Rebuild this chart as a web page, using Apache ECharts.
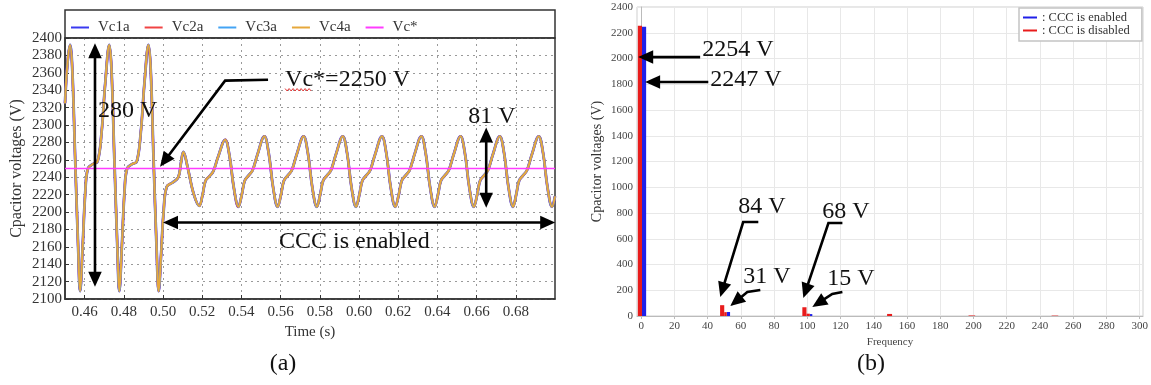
<!DOCTYPE html>
<html>
<head>
<meta charset="utf-8">
<script src="https://cdn.jsdelivr.net/npm/echarts@6/dist/echarts.min.js"></script>
<style>
html, body { margin: 0; padding: 0; background: #fff; }
#chart { width: 1151px; height: 385px; }
</style>
</head>
<body>
<div id="chart"></div>
<script>
// panel (a): capacitor voltage waveform
var timeTicks = [0.46, 0.48, 0.50, 0.52, 0.54, 0.56, 0.58, 0.60, 0.62, 0.64, 0.66, 0.68];
var vcWave = [
  [0.4500, 2325], [0.4513, 2372], [0.4526, 2392], [0.4537, 2365], [0.4552, 2260], [0.4567, 2160], [0.4577, 2109],
  [0.4590, 2160], [0.4604, 2225], [0.4617, 2250], [0.4642, 2255], [0.4666, 2258], [0.4686, 2290], [0.4706, 2350],
  [0.4726, 2392], [0.4737, 2365], [0.4752, 2260], [0.4767, 2160], [0.4777, 2109],
  [0.4790, 2160], [0.4804, 2225], [0.4817, 2250], [0.4842, 2255], [0.4866, 2258], [0.4886, 2290], [0.4906, 2350],
  [0.4926, 2392], [0.4937, 2365], [0.4952, 2260], [0.4967, 2160], [0.4978, 2109],
  [0.4990, 2150], [0.5003, 2200], [0.5019, 2229], [0.5050, 2234], [0.5078, 2240], [0.5092, 2257], [0.5104, 2269],
  [0.5125, 2252], [0.5155, 2222], [0.5185, 2207],
  [0.5202, 2220], [0.5217, 2236], [0.5237, 2241], [0.5257, 2247], [0.5282, 2264], [0.5317, 2283], [0.5339, 2265], [0.5362, 2227], [0.5385, 2206],
  [0.5402, 2220], [0.5417, 2236], [0.5437, 2242], [0.5457, 2248], [0.5482, 2266], [0.5517, 2287], [0.5539, 2268], [0.5562, 2228], [0.5585, 2206],
  [0.5602, 2220], [0.5617, 2236], [0.5637, 2242], [0.5657, 2248], [0.5682, 2266], [0.5717, 2287], [0.5739, 2268], [0.5762, 2228], [0.5785, 2206],
  [0.5802, 2220], [0.5817, 2236], [0.5837, 2242], [0.5857, 2248], [0.5882, 2266], [0.5917, 2287], [0.5939, 2268], [0.5962, 2228], [0.5985, 2206],
  [0.6002, 2220], [0.6017, 2236], [0.6037, 2242], [0.6057, 2248], [0.6082, 2266], [0.6117, 2287], [0.6139, 2268], [0.6162, 2228], [0.6185, 2206],
  [0.6203, 2220], [0.6218, 2236], [0.6238, 2242], [0.6258, 2248], [0.6283, 2266], [0.6318, 2287], [0.6340, 2268], [0.6363, 2228], [0.6386, 2206],
  [0.6403, 2220], [0.6418, 2236], [0.6438, 2242], [0.6458, 2248], [0.6483, 2266], [0.6518, 2287], [0.6540, 2268], [0.6563, 2228], [0.6586, 2206],
  [0.6603, 2220], [0.6618, 2236], [0.6638, 2242], [0.6658, 2248], [0.6683, 2266], [0.6718, 2287], [0.6740, 2268], [0.6763, 2228], [0.6786, 2206],
  [0.6802, 2220], [0.6817, 2236], [0.6837, 2242], [0.6857, 2248], [0.6882, 2266], [0.6917, 2287], [0.6939, 2268], [0.6962, 2228], [0.6985, 2206],
  [0.7000, 2218]
];
var vcRef = [[0.45, 2250], [0.70, 2250]];

// panel (b): spectrum bars [from Hz, to Hz, volts]
var freqTicks = [0, 20, 40, 60, 80, 100, 120, 140, 160, 180, 200, 220, 240, 260, 280, 300];
var enabledBars = [[0.5, 3, 2247], [51.5, 53.5, 31], [101.5, 103, 15]];
var disabledBars = [[-2, 0.5, 2254], [47.5, 50, 84], [50, 51.5, 30], [97, 99.5, 68], [99.5, 101.5, 18],
  [148, 151, 16], [197, 201, 4], [247, 251, 3]];

var serif = 'Liberation Serif';
var chart = echarts.init(document.getElementById('chart'));

function barItem(params, api) {
  var p0 = api.coord([api.value(0), 0]);
  var p1 = api.coord([api.value(1), api.value(2)]);
  return {
    type: 'rect',
    shape: { x: p0[0], y: p1[1], width: p1[0] - p0[0], height: p0[1] - p1[1] },
    style: { fill: api.visual('color') }
  };
}

function waveSeries(name, color, width) {
  return {
    name: name, type: 'line', xAxisIndex: 0, yAxisIndex: 0,
    data: vcWave, symbol: 'none', smooth: 0.4,
    itemStyle: { color: color }, lineStyle: { color: color, width: width }
  };
}
function plain(v) { return String(v); }

option = {
  animation: false,
  grid: [
    { left: 65, top: 38, width: 490, height: 261, show: true, borderColor: '#333', borderWidth: 1.5 },
    { left: 637, top: 7, width: 506, height: 309, show: true, borderColor: '#cfcfcf', borderWidth: 1 }
  ],
  legend: [
    {
      data: ['Vc1a', 'Vc2a', 'Vc3a', 'Vc4a', 'Vc*'],
      icon: 'rect', left: 66, top: 15, itemWidth: 18, itemHeight: 2, itemGap: 15,
      textStyle: { fontFamily: serif, fontSize: 15, color: '#333', padding: [0, 0, 0, 4] }
    },
    {
      data: [{ name: ': CCC is enabled', icon: 'rect' }, { name: ': CCC is disabled', icon: 'rect' }],
      orient: 'vertical', left: 1019, top: 8, itemWidth: 14, itemHeight: 2, itemGap: 0,
      padding: [3, 12, 4, 4], borderColor: '#c4c4c4', borderWidth: 1.5, backgroundColor: '#fff',
      textStyle: { fontFamily: serif, fontSize: 12.5, color: '#333' }
    }
  ],
  xAxis: [
    {
      type: 'value', gridIndex: 0, min: 0.45, max: 0.70,
      name: 'Time (s)', nameLocation: 'middle', nameGap: 25,
      nameTextStyle: { fontFamily: serif, fontSize: 15, color: '#333' },
      axisLine: { lineStyle: { color: '#333', width: 1.5 } },
      axisTick: { customValues: timeTicks, inside: true, length: 4, lineStyle: { color: '#333' } },
      axisLabel: { customValues: timeTicks, margin: 6, fontFamily: serif, fontSize: 15, color: '#333',
        formatter: function (v) { return v.toFixed(2); } },
      splitLine: { show: true, lineStyle: { color: '#9a9a9a', type: [2, 4] } }
    },
    {
      type: 'value', gridIndex: 1, min: -2.5, max: 302,
      name: 'Frequency', nameLocation: 'middle', nameGap: 20,
      nameTextStyle: { fontFamily: serif, fontSize: 11, color: '#444' },
      axisLine: { lineStyle: { color: '#bbb' } },
      axisTick: { customValues: freqTicks, length: 3, lineStyle: { color: '#bbb' } },
      axisLabel: { customValues: freqTicks, margin: 5, fontFamily: serif, fontSize: 11, color: '#444', formatter: plain },
      splitLine: { show: true, lineStyle: { color: '#e8e8e8' } }
    }
  ],
  yAxis: [
    {
      type: 'value', gridIndex: 0, min: 2100, max: 2400, interval: 20,
      name: 'Cpacitor voltages (V)', nameLocation: 'middle', nameGap: 40,
      nameTextStyle: { fontFamily: serif, fontSize: 16, color: '#333' },
      axisLine: { lineStyle: { color: '#333', width: 1.5 } },
      axisTick: { inside: true, length: 4, lineStyle: { color: '#333' } },
      axisLabel: { margin: 3, fontFamily: serif, fontSize: 15, color: '#333', formatter: plain },
      splitLine: { show: true, lineStyle: { color: '#9a9a9a', type: [2, 4] } }
    },
    {
      type: 'value', gridIndex: 1, min: 0, max: 2400, interval: 200,
      name: 'Cpacitor voltages (V)', nameLocation: 'middle', nameGap: 33,
      nameTextStyle: { fontFamily: serif, fontSize: 14, color: '#333' },
      axisLine: { show: true, lineStyle: { color: '#bbb' } },
      axisTick: { show: false },
      axisLabel: { margin: 4, fontFamily: serif, fontSize: 11, color: '#444', formatter: plain },
      splitLine: { show: true, lineStyle: { color: '#e8e8e8' } }
    }
  ],
  series: [
    waveSeries('Vc1a', '#3a3af0', 2.8),
    waveSeries('Vc2a', '#f04444', 2.4),
    waveSeries('Vc3a', '#44a4f4', 2.2),
    waveSeries('Vc4a', '#e6a83c', 2),
    {
      name: 'Vc*', type: 'line', xAxisIndex: 0, yAxisIndex: 0, data: vcRef, symbol: 'none',
      itemStyle: { color: '#ff3cff' }, lineStyle: { color: '#ff3cff', width: 1.5 }
    },
    {
      name: ': CCC is enabled', type: 'custom', xAxisIndex: 1, yAxisIndex: 1,
      data: enabledBars, encode: { x: [0, 1], y: 2 }, renderItem: barItem,
      itemStyle: { color: '#2020e8' }
    },
    {
      name: ': CCC is disabled', type: 'custom', xAxisIndex: 1, yAxisIndex: 1,
      data: disabledBars, encode: { x: [0, 1], y: 2 }, renderItem: barItem,
      itemStyle: { color: '#e81c1c' }
    }
  ]
};
chart.setOption(option);

// annotation arrows and texts, placed in data coordinates
function px(g, p) { return chart.convertToPixel({ gridIndex: g }, p); }
function head(tip, from, size) {
  var dx = tip[0] - from[0], dy = tip[1] - from[1];
  var len = Math.sqrt(dx * dx + dy * dy), ux = dx / len, uy = dy / len;
  var bx = tip[0] - ux * size, by = tip[1] - uy * size, w = size * 0.45;
  return { type: 'polygon', z: 100, shape: { points: [tip, [bx - uy * w, by + ux * w], [bx + uy * w, by - ux * w]] },
    style: { fill: '#000' } };
}
function cut(tip, from, d) {
  var dx = tip[0] - from[0], dy = tip[1] - from[1], len = Math.sqrt(dx * dx + dy * dy);
  return [tip[0] - dx / len * d, tip[1] - dy / len * d];
}
function arrow(g, pts, both) {
  var p = pts.map(function (d) { return px(g, d); });
  var n = p.length, size = 15;
  var line = p.slice();
  line[n - 1] = cut(p[n - 1], p[n - 2], size * 0.8);
  var out = [head(p[n - 1], p[n - 2], size)];
  if (both) {
    line[0] = cut(p[0], p[1], size * 0.8);
    out.push(head(p[0], p[1], size));
  }
  out.push({ type: 'polyline', z: 99, shape: { points: line }, style: { stroke: '#000', lineWidth: 2.6, fill: null } });
  return out;
}
function note(g, pos, str) {
  var p = px(g, pos);
  return { type: 'text', z: 100, x: p[0], y: p[1],
    style: { text: str, font: '24px "Liberation Serif"', fill: '#111', verticalAlign: 'middle', align: 'left' } };
}

var els = [];
els = els.concat(arrow(0, [[0.4653, 2394], [0.4653, 2114]], true));
els.push(note(0, [0.4668, 2317], '280 V'));
els = els.concat(arrow(0, [[0.5536, 2352], [0.5317, 2351], [0.4985, 2252]]));
els.push(note(0, [0.5623, 2352], 'Vc*=2250 V'));
els.push(note(0, [0.6557, 2309], '81 V'));
els = els.concat(arrow(0, [[0.6649, 2297], [0.6649, 2205]], true));
els = els.concat(arrow(0, [[0.5000, 2188], [0.7001, 2188]], true));
els.push(note(0, [0.5592, 2166], 'CCC is enabled'));

els = els.concat(arrow(1, [[35.5, 2011], [-1.8, 2011]]));
els.push(note(1, [36.7, 2065], '2254 V'));
els = els.concat(arrow(1, [[40.4, 1817], [2.4, 1817]]));
els.push(note(1, [41.6, 1832], '2247 V'));
els = els.concat(arrow(1, [[70.5, 730], [61.4, 730], [47.6, 148]]));
els.push(note(1, [58.4, 846], '84 V'));
els = els.concat(arrow(1, [[71.7, 202], [63.9, 186], [53.6, 78]]));
els.push(note(1, [61.4, 303], '31 V'));
els = els.concat(arrow(1, [[121.1, 722], [112.7, 722], [97.6, 140]]));
els.push(note(1, [109, 807], '68 V'));
els = els.concat(arrow(1, [[121.1, 186], [115, 171], [103, 70]]));
els.push(note(1, [112, 287], '15 V'));

// red spell-check squiggle under "Vc"
var sq = px(0, [0.5623, 2352]);
var wav = [];
for (var i = 0; i <= 13; i++) { wav.push([sq[0] + i * 2, sq[1] + 10 + (i % 2 ? 1.2 : -1.2)]); }
els.push({ type: 'polyline', z: 100, shape: { points: wav }, style: { stroke: '#e03030', lineWidth: 1, fill: null } });

// legend frame of panel (a)
els.push({ type: 'rect', z: 1, shape: { x: 65, y: 10, width: 490, height: 28 },
  style: { stroke: '#333', lineWidth: 1.5, fill: null } });
els.push({ type: 'text', x: 283, y: 364, style: { text: '(a)', font: '24px "Liberation Serif"', fill: '#111', align: 'center', verticalAlign: 'middle' } });
els.push({ type: 'text', x: 871, y: 364, style: { text: '(b)', font: '24px "Liberation Serif"', fill: '#111', align: 'center', verticalAlign: 'middle' } });

chart.setOption({ graphic: els });
window.addEventListener('resize', function () {
  chart.resize();
});
</script>
</body>
</html>
